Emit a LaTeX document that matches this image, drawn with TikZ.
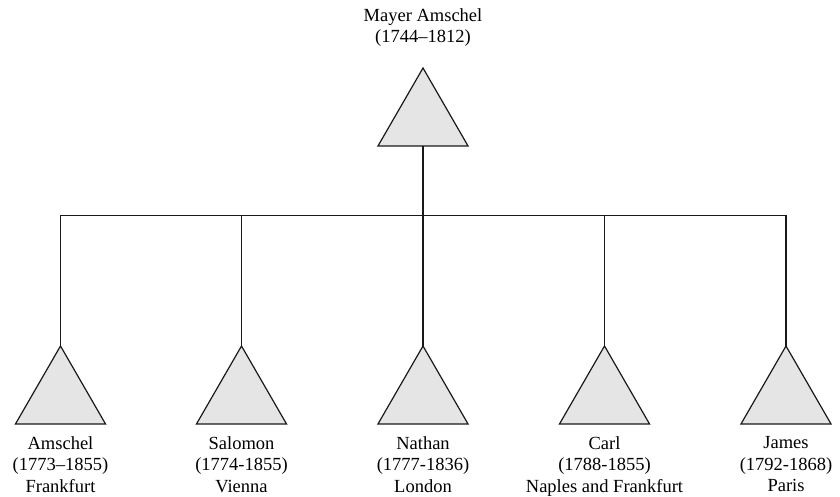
\documentclass[tikz,border=0pt]{standalone}
\usepackage{fontspec}
\setmainfont{Liberation Serif}
\usetikzlibrary{shapes.geometric,positioning}
\definecolor{trifill}{RGB}{229,229,229}
\definecolor{ink}{RGB}{25,25,25}
\tikzset{
  person/.style={regular polygon, regular polygon sides=3, minimum size=104pt,
    inner sep=0pt, outer sep=0pt, draw=ink, fill=trifill, line width=1.2pt},
  who/.style={align=center, inner sep=0pt, anchor=north,
    font=\fontsize{18.5}{21.5}\selectfont},
  link/.style={draw=ink, line width=1.2pt}
}
\begin{document}
\begin{tikzpicture}[x=1pt,y=1pt]
\useasboundingbox (0,0) rectangle (840,497);
% parent
\node[person] (mayer) at (423,377) {};
\node[who] (mayerlbl) at (423,488.6) {Mayer Amschel\\(1744–1812)};
% the five sons
\node[person] (amschel) at (60.5,99) {};
\node[person] (salomon) at (241.5,99) {};
\node[person] (nathan)  at (423,99) {};
\node[person] (carl)    at (604.5,99) {};
\node[person] (james)   at (786,99) {};
\node[who] (amschellbl) at (60.5,60.6)  {Amschel\\(1773–1855)\\Frankfurt};
\node[who] (salomonlbl) at (241.5,60.6) {Salomon\\(1774-1855)\\Vienna};
\node[who] (nathanlbl)  at (423,60.6)   {Nathan\\(1777-1836)\\London};
\node[who] (carllbl)    at (604.5,60.6) {Carl\\(1788-1855)\\Naples and Frankfurt};
\node[who] (jameslbl)   at (786,60.6)   {James\\(1792-1868)\\Paris};
% family bar
\coordinate (bar) at (423,281.5);
\draw[link] (mayer.south) -- (nathan.north);
\draw[link] (amschel.north) |- (bar) -| (james.north);
\draw[link] (salomon.north) -- (salomon.north |- bar);
\draw[link] (carl.north) -- (carl.north |- bar);
\end{tikzpicture}
\end{document}
